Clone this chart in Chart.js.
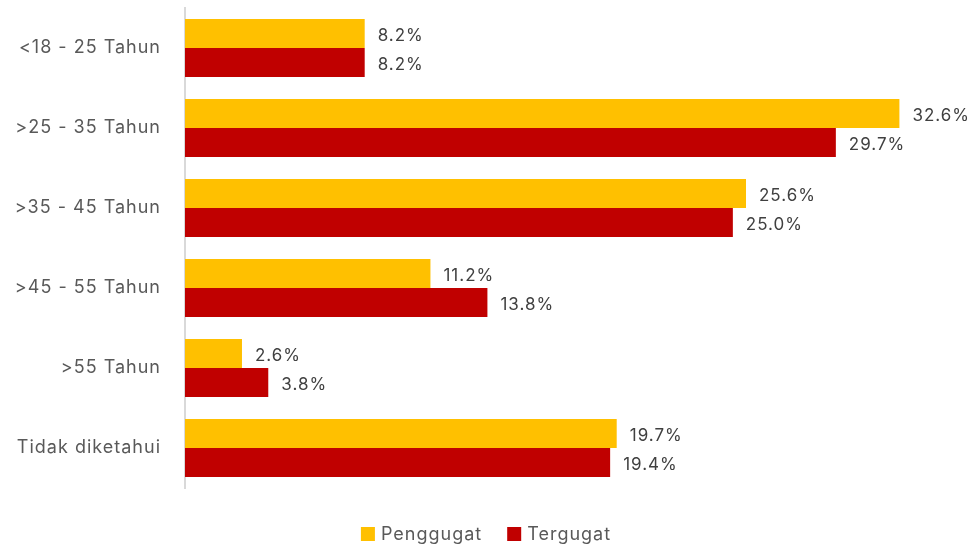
<!DOCTYPE html>
<html>
<head>
<meta charset="utf-8">
<script src="https://cdn.jsdelivr.net/npm/chart.js@4"></script>
<style>
html,body{margin:0;padding:0;background:#fff;}
#wrap{width:972px;height:547px;position:relative;}
</style>
</head>
<body>
<div id="wrap"><canvas id="c" width="972" height="547"></canvas></div>
<script>
const categories = ["<18 - 25 Tahun", ">25 - 35 Tahun", ">35 - 45 Tahun", ">45 - 55 Tahun", ">55 Tahun", "Tidak diketahui"];
const penggugat = [8.2, 32.6, 25.6, 11.2, 2.6, 19.7];
const tergugat = [8.2, 29.7, 25.0, 13.8, 3.8, 19.4];
const seriesNames = ["Penggugat", "Tergugat"];
const seriesColors = ["#FFC000", "#C00000"];
const xMax = 35;

const FONT = "Inter, 'Open Sans', sans-serif";

const spacing = {
  id: 'spacing',
  beforeDraw(chart) { chart.ctx.letterSpacing = '1px'; }
};

const valueLabels = {
  id: 'valueLabels',
  afterDatasetsDraw(chart) {
    const ctx = chart.ctx;
    ctx.save();
    ctx.font = "17px " + FONT;
    ctx.fillStyle = "#404040";
    ctx.textBaseline = "middle";
    ctx.textAlign = "left";
    chart.data.datasets.forEach((ds, i) => {
      const meta = chart.getDatasetMeta(i);
      meta.data.forEach((bar, j) => {
        ctx.fillText(ds.data[j].toFixed(1) + "%", bar.x + 13, bar.y + 2);
      });
    });
    ctx.restore();
  }
};

const customLegend = {
  id: 'customLegend',
  afterDraw(chart) {
    const ctx = chart.ctx;
    ctx.save();
    ctx.font = "18px " + FONT;
    ctx.textBaseline = "middle";
    ctx.textAlign = "left";
    const box = 14, gapText = 6, gapItem = 25;
    const items = chart.data.datasets.map(ds => ({ label: ds.label, color: ds.backgroundColor, w: ctx.measureText(ds.label).width }));
    let total = 0;
    items.forEach((it, i) => { total += box + gapText + it.w + (i < items.length - 1 ? gapItem : 0); });
    let x = chart.width / 2 - total / 2;
    const cy = 534;
    items.forEach(it => {
      ctx.fillStyle = it.color;
      ctx.fillRect(x, cy - box / 2, box, box);
      x += box + gapText;
      ctx.fillStyle = '#595959';
      ctx.fillText(it.label, x, cy + 1);
      x += it.w + gapItem;
    });
    ctx.restore();
  }
};

new Chart(document.getElementById('c'), {
  type: 'bar',
  data: {
    labels: categories,
    datasets: [
      { label: seriesNames[0], data: penggugat, backgroundColor: seriesColors[0], categoryPercentage: 0.725, barPercentage: 1 },
      { label: seriesNames[1], data: tergugat, backgroundColor: seriesColors[1], categoryPercentage: 0.725, barPercentage: 1 }
    ]
  },
  options: {
    indexAxis: 'y',
    responsive: false,
    animation: false,
    devicePixelRatio: 1,
    layout: { padding: { top: 8, right: 20, left: 0, bottom: 59 } },
    scales: {
      x: {
        min: 0, max: xMax,
        grid: { display: false },
        border: { display: false },
        ticks: { display: false },
        afterFit(s) { s.height = 0; s.paddingLeft = 0; s.paddingRight = 0; }
      },
      y: {
        grid: { display: false, drawTicks: false },
        border: { display: true, color: '#D9D9D9', width: 2 },
        ticks: { color: '#595959', font: { family: FONT, size: 18 }, padding: 24 },
        afterFit(s) { s.width = 185; s.paddingTop = 0; s.paddingBottom = 0; }
      }
    },
    plugins: {
      legend: { display: false },
      tooltip: { enabled: false }
    }
  },
  plugins: [spacing, valueLabels, customLegend]
});
</script>
</body>
</html>
